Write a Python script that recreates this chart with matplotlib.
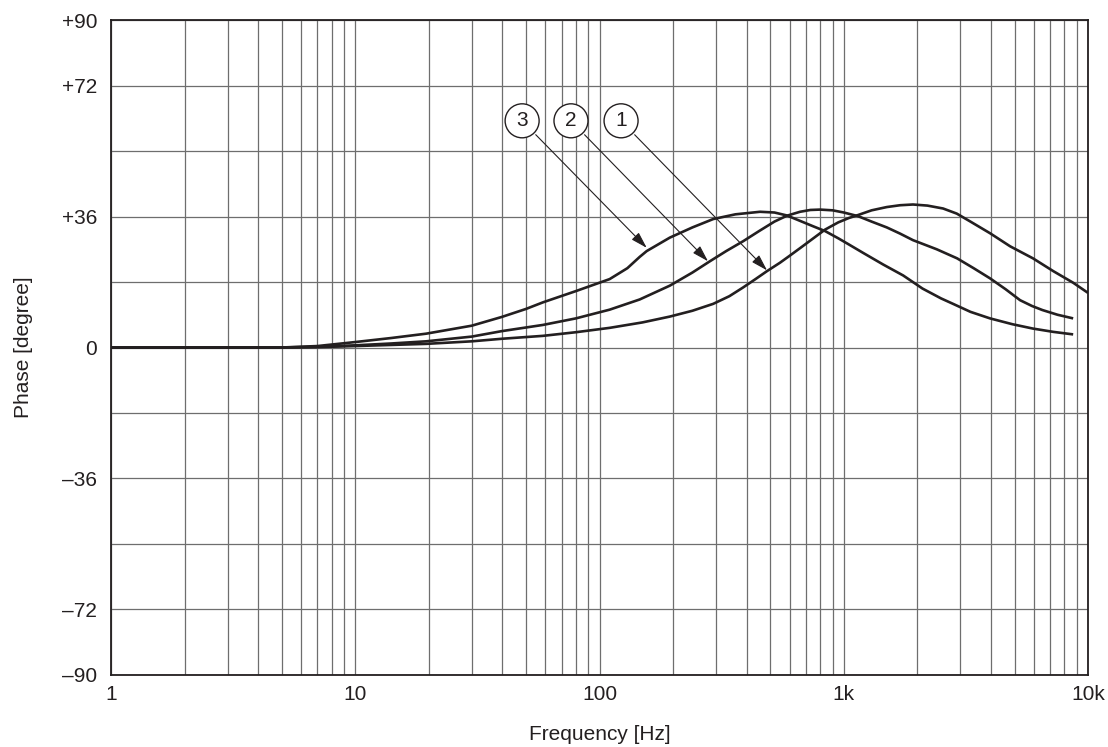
import numpy as np
import matplotlib
matplotlib.use("Agg")
from matplotlib import pyplot as plt
from matplotlib.ticker import FixedLocator, NullFormatter

plt.rcParams['font.family'] = ['Liberation Sans', 'DejaVu Sans']

# curve 1 (peak near 2 kHz)
f1 = [1, 3, 5, 7, 10, 14, 19.5, 30, 39.8, 58.6, 80, 110, 150, 194, 240, 292, 340, 387, 435, 485,
      548, 600, 662, 750, 838, 950, 1050, 1143, 1300, 1500, 1700, 1920, 2200, 2550, 2900, 3300,
      3970, 4800, 5950, 7200, 8690, 10000]
p1 = [0, 0, 0, 0.1, 0.4, 0.7, 1.0, 1.7, 2.4, 3.2, 4.2, 5.4, 6.9, 8.5, 10.1, 12, 14.1, 16.5, 18.8, 21,
      23.3, 25.2, 27.3, 30, 32.4, 34.4, 35.6, 36.4, 37.7, 38.6, 39.1, 39.3, 39.0, 38.2, 36.8, 34.6,
      31.4, 27.8, 24.5, 21.0, 17.8, 15]

# curve 2 (peak near 800 Hz)
f2 = [1, 3, 5, 7, 10, 14, 19.5, 30, 39.8, 58.6, 80, 110, 146, 194, 240, 283, 330, 387, 450, 520,
      584, 662, 730, 800, 900, 1000, 1143, 1300, 1500, 1700, 1920, 2400, 2910, 3400, 3970, 4600,
      5270, 5900, 6500, 7500, 8690]
p2 = [0, 0, 0, 0.2, 0.6, 1.1, 1.7, 3.0, 4.5, 6.2, 8.0, 10.4, 13.2, 17, 20.6, 23.7, 26.5, 29.2, 32, 34.6,
      36.2, 37.3, 37.8, 37.9, 37.7, 37.1, 36.1, 34.6, 33.0, 31.3, 29.5, 27, 24.5, 21.8, 19, 16,
      13, 11.4, 10.3, 9.0, 8]

# curve 3 (peak near 500 Hz)
f3 = [1, 3, 5, 7, 10, 14, 19.5, 30, 39.8, 50, 58.6, 80, 110, 130, 146, 156, 194, 240, 292, 360,
      454, 520, 584, 662, 750, 838, 950, 1050, 1200, 1450, 1750, 2100, 2500, 2800, 3300, 3970,
      4900, 5950, 7200, 8690]
p3 = [0, 0, 0, 0.4, 1.5, 2.6, 3.8, 6.0, 8.4, 10.6, 12.4, 15.5, 18.8, 21.8, 24.9, 26.5, 30.2, 33.0, 35.3, 36.6,
      37.3, 37.1, 36.3, 34.8, 33.3, 32.0, 30.0, 28.3, 26, 22.8, 19.8, 16.2, 13.5, 12, 9.8, 8,
      6.4, 5.2, 4.3, 3.6]

labels = ['1', '2', '3']
label_x = [122.5, 76.4, 48.2]
label_y = [62.3, 62.3, 62.3]
arrow_x = [485, 278, 156]
arrow_y = [21.2, 23.7, 27.4]

xticks = [1, 10, 100, 1000, 10000]
xticklabels = ['1', '10', '100', '1k', '10k']
yticks = [90, 72, 36, 0, -36, -72, -90]
yticklabels = ['+90', '+72', '+36', '0', '\u201336', '\u201372', '\u201390']

fig = plt.figure(figsize=(11.08, 7.47), dpi=100)
ax = fig.add_axes([0.1002, 0.0964, 0.8818, 0.8768])

line_color = '#231f20'
for f, p in [(f1, p1), (f2, p2), (f3, p3)]:
    ax.plot(f, p, color=line_color, lw=1.9, solid_joinstyle='round', solid_capstyle='butt')

ax.set_xscale('log')
ax.set_xlim(1, 10000)
ax.set_ylim(-90, 90)

ax.xaxis.set_major_locator(FixedLocator(xticks))
ax.set_xticklabels(xticklabels)
minor = [m * 10 ** d for d in range(4) for m in range(2, 10)]
ax.xaxis.set_minor_locator(FixedLocator(minor))
ax.xaxis.set_minor_formatter(NullFormatter())
ax.set_yticks(yticks)
ax.set_yticklabels(yticklabels)
ax.yaxis.set_minor_locator(FixedLocator([54, 18, -18, -54]))

ax.grid(which='both', color='#6e6e6e', lw=0.9)
ax.tick_params(which='both', length=0, labelsize=15, colors='#231f20')
ax.tick_params(axis='x', pad=7)
ax.tick_params(axis='y', pad=10)
for s in ax.spines.values():
    s.set_linewidth(1.3)
    s.set_color('#231f20')
    s.set_zorder(5)

ax.set_xlabel('Frequency [Hz]', fontsize=15, color='#231f20')
ax.set_ylabel('Phase [degree]', fontsize=15, color='#231f20')
ax.xaxis.set_label_coords(0.5, -0.076)
ax.yaxis.set_label_coords(-0.080, 0.5)

for t, lx, ly, axx, ayy in zip(labels, label_x, label_y, arrow_x, arrow_y):
    ax.annotate('', xy=(axx, ayy), xytext=(lx, ly),
                arrowprops=dict(arrowstyle='-|>,head_length=1.0,head_width=0.3', color=line_color, lw=0.8,
                                shrinkA=14, shrinkB=0))
    ax.text(lx, ly, t, ha='center', va='center', fontsize=15, color=line_color,
            bbox=dict(boxstyle='circle,pad=0.36', fc='white', ec=line_color, lw=1.0), zorder=6)

fig.savefig('out.png', dpi=100)
